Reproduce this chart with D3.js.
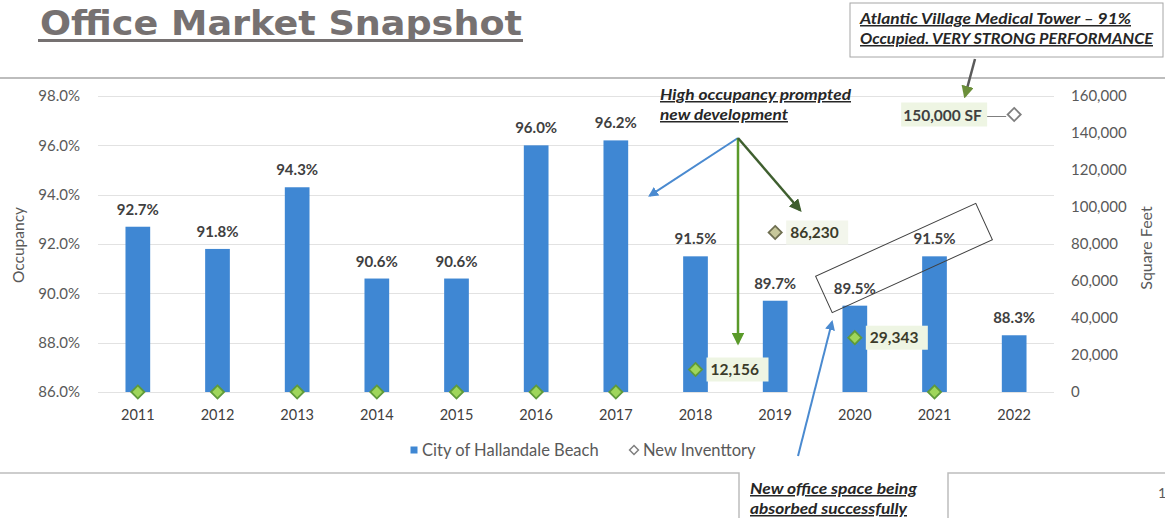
<!DOCTYPE html>
<html>
<head>
<meta charset="utf-8">
<script src="https://cdn.jsdelivr.net/npm/d3@7"></script>
<style>
  body { margin: 0; background: #fff; }
  svg { display: block; font-family: Lato, "Open Sans", sans-serif; }
</style>
</head>
<body>
<svg width="1165" height="518"></svg>
<script>
var years = ["2011", "2012", "2013", "2014", "2015", "2016", "2017", "2018", "2019", "2020", "2021", "2022"];
var occupancy = [0.927, 0.918, 0.943, 0.906, 0.906, 0.960, 0.962, 0.915, 0.897, 0.895, 0.915, 0.883];
var inventory = [0, 0, 0, 0, 0, 0, 0, 12156, 86230, 29343, 0, 150000];
var leftTicks = [0.86, 0.88, 0.90, 0.92, 0.94, 0.96, 0.98];
var rightTicks = [0, 20000, 40000, 60000, 80000, 100000, 120000, 140000, 160000];

var svg = d3.select("svg");
var plot = {left: 98, right: 1054, top: 96, bottom: 392};

var x = d3.scaleBand().domain(years).range([plot.left, plot.right])
  .paddingInner(0.69).paddingOuter(0.345);
var yL = d3.scaleLinear().domain([0.86, 0.98]).range([plot.bottom, plot.top]);
var yR = d3.scaleLinear().domain([0, 160000]).range([plot.bottom, plot.top]);
var cx = function (d) { return x(d) + x.bandwidth() / 2; };

// arrow markers
var defs = svg.append("defs");
function marker(id, color) {
  defs.append("marker").attr("id", id)
    .attr("viewBox", "0 0 10 10").attr("refX", 8).attr("refY", 5)
    .attr("markerWidth", 5).attr("markerHeight", 5).attr("orient", "auto")
    .append("path").attr("d", "M0,0 L10,5 L0,10 z").attr("fill", color);
}
marker("a-blue", "#4a8ad0");
marker("a-green", "#5a9a2a");
marker("a-dkgreen", "#3f5f2f");
marker("a-gray", "#6b8f3a");

// title + page frame lines
svg.append("text").attr("x", 40).attr("y", 35)
  .attr("font-family", "DejaVu Sans").attr("font-weight", "bold")
  .attr("font-size", 34).attr("fill", "#767171")
  .attr("textLength", 482).attr("lengthAdjust", "spacingAndGlyphs")
  .text("Office Market Snapshot");
svg.append("rect").attr("x", 38).attr("y", 39).attr("width", 485).attr("height", 3).attr("fill", "#767171");
svg.append("line").attr("x1", 0).attr("x2", 1165).attr("y1", 78).attr("y2", 78)
  .attr("stroke", "#bdbdbd").attr("stroke-width", 2);
svg.append("path").attr("d", "M0,473 H739 V518").attr("fill", "none").attr("stroke", "#bdbdbd").attr("stroke-width", 1.5);
svg.append("path").attr("d", "M1165,473 H948 V518").attr("fill", "none").attr("stroke", "#bdbdbd").attr("stroke-width", 1.5);
svg.append("text").attr("x", 1158).attr("y", 498).attr("font-size", 14).attr("fill", "#595959").text("1");

// gridlines
svg.append("g").selectAll("line").data(leftTicks).join("line")
  .attr("x1", plot.left).attr("x2", plot.right)
  .attr("y1", function (d) { return Math.round(yL(d)) + 0.5; })
  .attr("y2", function (d) { return Math.round(yL(d)) + 0.5; })
  .attr("stroke", "#e2e2e2");

// left axis
var axL = svg.append("g").attr("transform", "translate(" + (plot.left - 14) + ",0)")
  .call(d3.axisLeft(yL).tickValues(leftTicks).tickFormat(d3.format(".1%")).tickSize(0).tickPadding(4));
axL.select(".domain").remove();
axL.selectAll("text").attr("font-size", 15).attr("fill", "#595959").attr("font-family", "Lato");

// right axis
var axR = svg.append("g").attr("transform", "translate(" + (plot.right + 14) + ",0)")
  .call(d3.axisRight(yR).tickValues(rightTicks).tickFormat(d3.format(",")).tickSize(0).tickPadding(3));
axR.select(".domain").remove();
axR.selectAll("text").attr("font-size", 15).attr("fill", "#595959").attr("font-family", "Lato");

// x axis
var axX = svg.append("g").attr("transform", "translate(0," + (plot.bottom + 14) + ")")
  .call(d3.axisBottom(x).tickSize(0).tickPadding(4));
axX.select(".domain").remove();
axX.selectAll("text").attr("font-size", 14.5).attr("fill", "#404040").attr("font-family", "Lato");

// axis titles
svg.append("text").attr("transform", "translate(24,245) rotate(-90)")
  .attr("text-anchor", "middle").attr("font-size", 15.5).attr("fill", "#595959").text("Occupancy");
svg.append("text").attr("transform", "translate(1152,248) rotate(-90)")
  .attr("text-anchor", "middle").attr("font-size", 16).attr("fill", "#595959").text("Square Feet");

// bars
svg.append("g").selectAll("rect").data(years).join("rect")
  .attr("x", function (d) { return x(d); })
  .attr("width", x.bandwidth())
  .attr("y", function (d, i) { return yL(occupancy[i]); })
  .attr("height", function (d, i) { return plot.bottom - yL(occupancy[i]); })
  .attr("fill", "#3f87d3");

svg.append("g").selectAll("text").data(years).join("text")
  .attr("x", cx)
  .attr("y", function (d, i) { return yL(occupancy[i]) - 12; })
  .attr("text-anchor", "middle").attr("font-size", 15).attr("font-weight", "bold")
  .attr("fill", "#404040")
  .text(function (d, i) { return d3.format(".1%")(occupancy[i]); });

// inventory labels (background boxes)
var labelled = [7, 8, 9];
var lbl = svg.append("g").selectAll("g").data(labelled).join("g")
  .attr("transform", function (i) { return "translate(" + (cx(years[i]) + 15) + "," + yR(inventory[i]) + ")"; });
lbl.append("rect").attr("x", -4).attr("y", -12).attr("width", 62).attr("height", 24)
  .attr("fill", function (i) { return i === 8 ? "#f3f6ec" : "#eef5e3"; });
lbl.append("text").attr("x", 0).attr("y", 5.5).attr("font-size", 15.5).attr("font-weight", "bold")
  .attr("fill", "#3b3b2a").text(function (i) { return d3.format(",")(inventory[i]); });

// 150,000 SF label
var big = 11;
var by = yR(inventory[big]);
svg.append("rect").attr("x", cx(years[big]) - 113).attr("y", by - 12).attr("width", 86).attr("height", 24).attr("fill", "#eef5e3");
svg.append("text").attr("x", cx(years[big]) - 111).attr("y", by + 6).attr("font-size", 15.5).attr("font-weight", "bold")
  .attr("fill", "#404040").text(d3.format(",")(inventory[big]) + " SF");
svg.append("line").attr("x1", cx(years[big]) - 27).attr("x2", cx(years[big]) - 8)
  .attr("y1", by + 2).attr("y2", by + 2).attr("stroke", "#7f7f7f");

// inventory diamonds
var diamond = d3.symbol().type(d3.symbolDiamond2).size(110);
svg.append("g").selectAll("path").data(years).join("path")
  .attr("d", diamond)
  .attr("transform", function (d, i) { return "translate(" + cx(d) + "," + yR(inventory[i]) + ")"; })
  .attr("fill", function (d, i) { return i === 11 ? "#ffffff" : (i === 8 ? "#c7c79a" : "#9fd65a"); })
  .attr("stroke", function (d, i) { return i === 11 ? "#7f7f7f" : (i === 8 ? "#6e6e50" : "#5f9a3a"); })
  .attr("stroke-width", 1.8);

// legend
var lg = svg.append("g").attr("transform", "translate(414,450)");
lg.append("rect").attr("x", -3.5).attr("y", -3.5).attr("width", 7).attr("height", 7).attr("fill", "#3f87d3");
lg.append("text").attr("x", 8).attr("y", 5.5).attr("font-size", 16.5).attr("fill", "#595959").text("City of Hallandale Beach");
lg.append("path").attr("d", d3.symbol().type(d3.symbolDiamond2).size(50))
  .attr("transform", "translate(220,0)").attr("fill", "#fff").attr("stroke", "#7f7f7f").attr("stroke-width", 1.5);
lg.append("text").attr("x", 229).attr("y", 5.5).attr("font-size", 16.5).attr("fill", "#595959").text("New Inventtory");

// annotations
function note(x0, y0, lines, lens) {
  var t = svg.append("text").attr("font-size", 15).attr("font-weight", "bold")
    .attr("font-style", "italic").attr("text-decoration", "underline").attr("fill", "#262626");
  lines.forEach(function (s, k) {
    t.append("tspan").attr("x", x0).attr("y", y0 + k * 20)
      .attr("textLength", lens[k]).attr("lengthAdjust", "spacingAndGlyphs").text(s);
  });
}

svg.append("rect").attr("x", 850).attr("y", 3).attr("width", 313).attr("height", 54)
  .attr("fill", "#fff").attr("stroke", "#a6a6a6");
note(860, 24, ["Atlantic Village Medical Tower \u2013 91%", "Occupied. VERY STRONG PERFORMANCE"], [271, 293]);
svg.append("line").attr("x1", 975).attr("y1", 59).attr("x2", 965).attr("y2", 96)
  .attr("stroke", "#5a5a5a").attr("stroke-width", 2.5).attr("marker-end", "url(#a-gray)");

note(660, 100, ["High occupancy prompted", "new development"], [191, 128]);
var ox = 738, oy = 138;
svg.append("line").attr("x1", ox).attr("y1", oy).attr("x2", cx("2017") + 34).attr("y2", yL(0.94) + 1)
  .attr("stroke", "#4a8ad0").attr("stroke-width", 2).attr("marker-end", "url(#a-blue)");
svg.append("line").attr("x1", ox).attr("y1", oy).attr("x2", ox).attr("y2", 343)
  .attr("stroke", "#5a9a2a").attr("stroke-width", 2.5).attr("marker-end", "url(#a-green)");
svg.append("line").attr("x1", ox).attr("y1", oy).attr("x2", 800).attr("y2", 210)
  .attr("stroke", "#3f5f2f").attr("stroke-width", 2.5).attr("marker-end", "url(#a-dkgreen)");

// tilted box around the 2020 / 2021 values
svg.append("rect").attr("x", -88).attr("y", -20).attr("width", 176).attr("height", 40)
  .attr("transform", "translate(904,258) rotate(-24.5)")
  .attr("fill", "none").attr("stroke", "#404040").attr("stroke-width", 1);

svg.append("line").attr("x1", 798).attr("y1", 456).attr("x2", 832).attr("y2", 322)
  .attr("stroke", "#4a8ad0").attr("stroke-width", 2).attr("marker-end", "url(#a-blue)");
note(750, 494, ["New office space being", "absorbed successfully"], [167, 157]);
</script>
</body>
</html>
